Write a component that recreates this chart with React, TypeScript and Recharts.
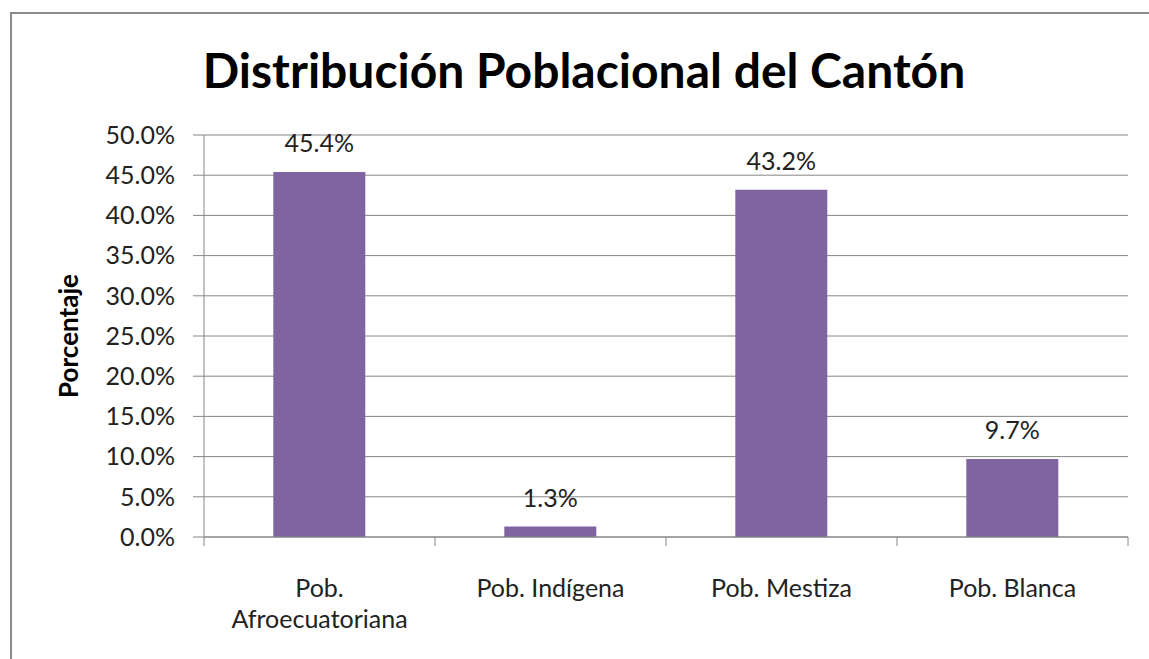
import React from "react";
import { BarChart, Bar, XAxis, YAxis, CartesianGrid, LabelList } from "recharts";

const categories = ["Pob. Afroecuatoriana", "Pob. Indígena", "Pob. Mestiza", "Pob. Blanca"];
const categoryLines = [["Pob.", "Afroecuatoriana"], ["Pob. Indígena"], ["Pob. Mestiza"], ["Pob. Blanca"]];
const values = [45.4, 1.3, 43.2, 9.7];
const yTicks = [0, 5, 10, 15, 20, 25, 30, 35, 40, 45, 50];

const data = categories.map((c, i) => ({ name: c, value: values[i], idx: i }));

const FONT = "Lato, 'Open Sans', sans-serif";
const GRAY = "#868686";
const FS = 25;

const XTick = (props: any) => {
  const { x, y, payload, index, visibleTicksCount } = props;
  const half = payload.offset || 0;
  const lines = categoryLines[payload.index ?? index] || [String(payload.value)];
  const isLast = (payload.index ?? index) === (visibleTicksCount ?? categories.length) - 1;
  return (
    <g>
      <line x1={x - half} x2={x - half} y1={y - 8} y2={y + 1} stroke={GRAY} strokeWidth={1} />
      {isLast && <line x1={x + half} x2={x + half} y1={y - 8} y2={y + 1} stroke={GRAY} strokeWidth={1} />}
      <text x={x} y={y + 52} textAnchor="middle" fill="#222" fontSize={FS} fontFamily={FONT}>
        {lines.map((l, i) => (
          <tspan key={i} x={x} dy={i === 0 ? 0 : 31}>{l}</tspan>
        ))}
      </text>
    </g>
  );
};

export default function App() {
  return (
    <div style={{ position: "absolute", left: 0, top: 0, width: 1149, height: 659, overflow: "hidden", background: "#fff" }}>
      <div style={{ position: "absolute", left: 10, top: 12, width: 1300, height: 800, borderTop: "2px solid #8c8c8c", borderLeft: "2px solid #8c8c8c" }} />
      <div style={{ position: "absolute", left: 0, top: 37, width: 1168, textAlign: "center", fontFamily: FONT, fontWeight: 700, fontSize: 48, color: "#000", lineHeight: "66px" }}>
        Distribución Poblacional del Cantón
      </div>
      <div style={{ position: "absolute", left: 0, top: 0 }}>
        <BarChart width={1149} height={659} data={data} margin={{ top: 135, right: 21, bottom: 0, left: 0 }} barCategoryGap="30%">
          <CartesianGrid vertical={false} stroke={GRAY} strokeWidth={1} />
          <XAxis
            dataKey="name"
            height={122}
            stroke={GRAY}
            tickLine={false}
            tick={<XTick />}
            interval={0}
          />
          <YAxis
            width={204}
            domain={[0, 50]}
            ticks={yTicks}
            stroke={GRAY}
            tickSize={11}
            tickMargin={18}
            tickFormatter={(v: number) => v.toFixed(1) + "%"}
            tick={{ fill: "#222", fontSize: FS, fontFamily: FONT }}
            label={{ value: "Porcentaje", angle: -90, position: "insideLeft", dx: 64, style: { fontWeight: 700, fontSize: 26, fontFamily: FONT, fill: "#000", textAnchor: "middle" } }}
          />
          <Bar dataKey="value" fill="#8064a2" isAnimationActive={false}>
            <LabelList dataKey="value" position="top" offset={20} formatter={(v: number) => v.toFixed(1) + "%"} style={{ fill: "#222", fontSize: FS, fontFamily: FONT }} />
          </Bar>
        </BarChart>
      </div>
    </div>
  );
}
